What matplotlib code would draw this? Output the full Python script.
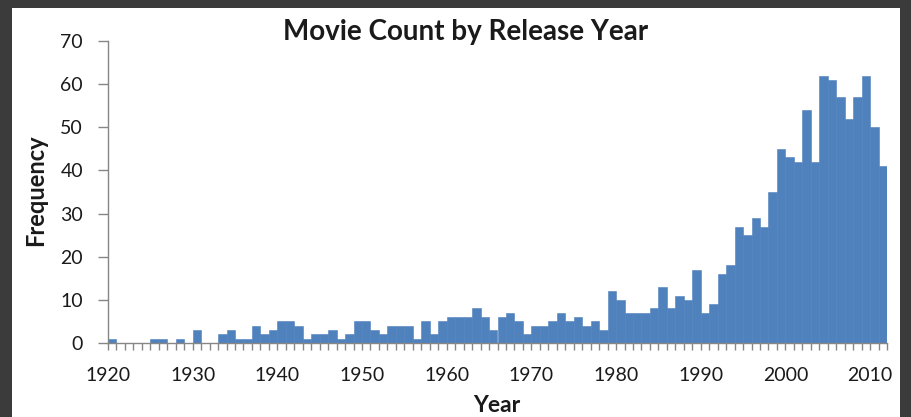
import matplotlib
matplotlib.use("Agg")
import matplotlib.pyplot as plt
from matplotlib.patches import Rectangle
from matplotlib.ticker import MultipleLocator

years = list(range(1920, 2012))
counts = [1, 0, 0, 0, 0, 1, 1, 0, 1, 0,
          3, 0, 0, 2, 3, 1, 1, 4, 2, 3,
          5, 5, 4, 1, 2, 2, 3, 1, 2, 5,
          5, 3, 2, 4, 4, 4, 1, 5, 2, 5,
          6, 6, 6, 8, 6, 3, 6, 7, 5, 2,
          4, 4, 5, 7, 5, 6, 4, 5, 3, 12,
          10, 7, 7, 7, 8, 13, 8, 11, 10, 17,
          7, 9, 16, 18, 27, 25, 29, 27, 35, 45,
          43, 42, 54, 42, 62, 61, 57, 52, 57, 62,
          50, 41]
x_tick_labels = [str(y) for y in range(1920, 2011, 10)]
y_ticks = [0, 10, 20, 30, 40, 50, 60, 70]

plt.rcParams['font.family'] = ['Lato', 'DejaVu Sans']

W, H = 912, 417
fig = plt.figure(figsize=(W / 100, H / 100), dpi=100, facecolor='#3b3b3b')
fig.patches.append(Rectangle((12 / W, 0), (900 - 12) / W, (H - 8) / H,
                             transform=fig.transFigure, facecolor='white',
                             edgecolor='none', zorder=-10))

ax = fig.add_axes([108 / W, (H - 343) / H, (887 - 108) / W, (343 - 41) / H])
ax.set_zorder(5)
ax.set_facecolor('none')
ax.bar(years, counts, width=1.0, align='edge', color='#4f81bd',
       edgecolor='#4f81bd', linewidth=0.4)

ax.set_xlim(1920, 2012)
ax.set_ylim(0, 70)
ax.set_yticks(y_ticks)
ax.set_xticks([int(s) for s in x_tick_labels])
ax.set_xticklabels(x_tick_labels)
ax.xaxis.set_minor_locator(MultipleLocator(1))

for side in ['top', 'right']:
    ax.spines[side].set_visible(False)
for side in ['left', 'bottom']:
    ax.spines[side].set_color('#868686')
    ax.spines[side].set_linewidth(1.0)
    ax.spines[side].set_zorder(3)

ax.tick_params(axis='y', which='major', direction='out', length=7, width=1,
               color='#868686', labelsize=14, pad=11, labelcolor='#1a1a1a')
ax.tick_params(axis='x', which='major', direction='out', length=5, width=1,
               color='#868686', labelsize=14, pad=12, labelcolor='#1a1a1a')
ax.tick_params(axis='x', which='minor', direction='out', length=5, width=1,
               color='#868686')

fig.text(466 / W, 1 - 32 / H, 'Movie Count by Release Year', ha='center',
         va='center', fontsize=20, fontweight='bold', color='#1a1a1a', zorder=6)
fig.text(36 / W, 1 - 190 / H, 'Frequency', ha='center', va='center',
         rotation=90, fontsize=17, fontweight='bold', color='#1a1a1a', zorder=6)
fig.text(497 / W, 1 - 405 / H, 'Year', ha='center', va='center',
         fontsize=16.5, fontweight='bold', color='#1a1a1a', zorder=6)

fig.savefig('out.png', dpi=100, facecolor=fig.get_facecolor())
